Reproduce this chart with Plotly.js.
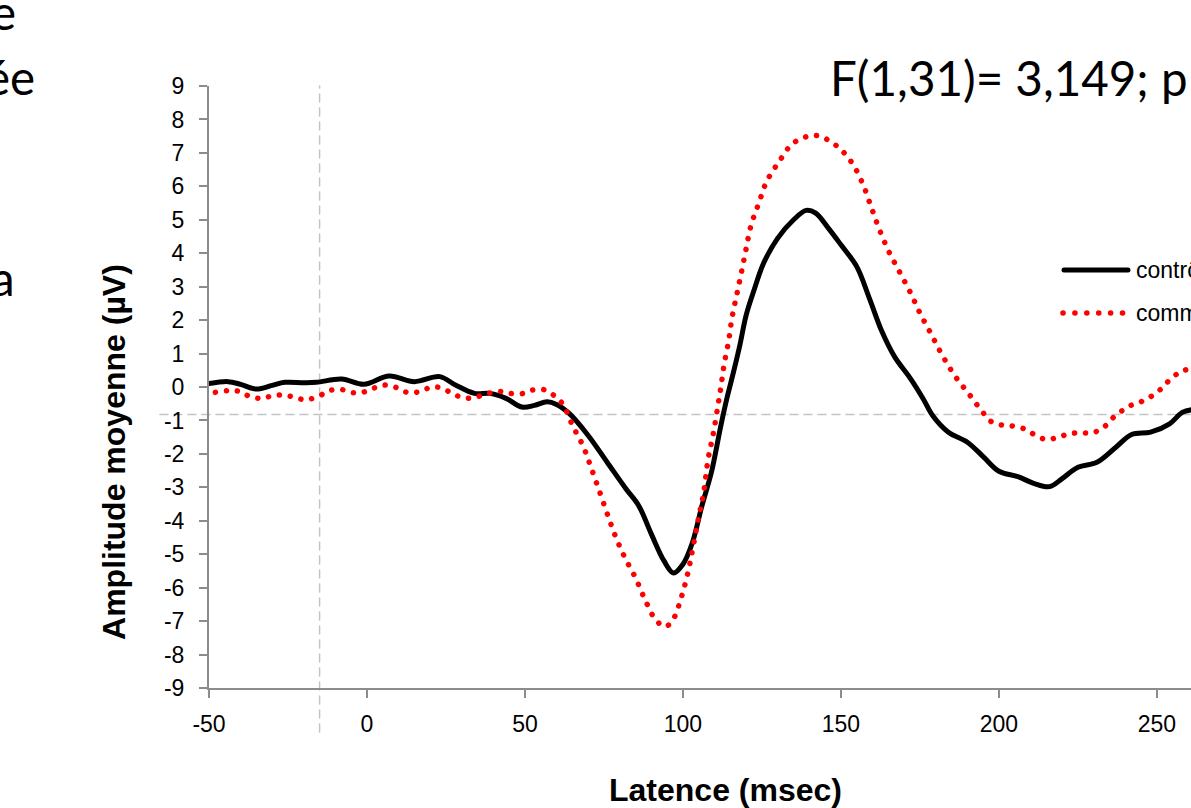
<!DOCTYPE html>
<html><head><meta charset="utf-8">
<script src="https://cdn.plot.ly/plotly-3.0.1.min.js"></script>
<style>
html,body{margin:0;padding:0;overflow:hidden;background:#fff;}
#chart{width:1300px;height:808px;}
.scatterlayer path.js-line{stroke-linecap:round !important;stroke-linejoin:round !important;}
.shapelayer path{stroke-linecap:round !important;}
</style></head><body><div id="chart"></div>
<script>
// ---- data ----
const seriesNames = ['contrôles', 'commotionnés'];

const latenceControle = [-50,-44,-40,-35,-30,-26,-20,-16,-8,-1,7,15,23,28,34,39,44,49,53,57,60,64,70,76,82,86,90,94,97,100,103,106,109,112,114,116,118,120,122.5,125.5,130,135,139,142,146,150,155,159,163,167,172,176,179,184,190,195,200,206,211,216,220,225,231,237,242,248,254,258,261];
const amplitudeControle = [0.10,0.16,0.08,-0.06,0.05,0.14,0.13,0.14,0.24,0.08,0.33,0.16,0.31,0.06,-0.19,-0.19,-0.34,-0.60,-0.55,-0.44,-0.52,-0.79,-1.45,-2.25,-3.05,-3.55,-4.40,-5.20,-5.56,-5.30,-4.65,-3.55,-2.55,-1.15,-0.30,0.45,1.25,2.15,2.90,3.70,4.45,5.00,5.28,5.20,4.75,4.25,3.60,2.65,1.65,0.90,0.25,-0.35,-0.85,-1.35,-1.65,-2.08,-2.52,-2.68,-2.88,-2.98,-2.74,-2.40,-2.25,-1.80,-1.42,-1.35,-1.10,-0.76,-0.68];

const latenceCommotion = [-48,-44,-40,-37,-33,-30,-26,-22,-19,-15,-12,-8,-4.5,-1,2.5,6,10,13,17,20.5,24,27,31,34,38,42,45,49,52,56,59,62,65,68.5,71,73.5,76,78.5,81.5,85,88,91.5,94.5,97,99.5,101.5,103,105,106.5,108,109.5,111,112,113,114.5,115.5,117,118.5,120,121.5,124,126.5,130.5,135,142,148.5,153.5,157,159.5,162,165,168.5,172,175,178.5,182,186,190.5,195,197.5,201,204.5,208.5,211.5,215,218.5,222.5,226,229.5,233,235.5,238.5,241.5,245,248.5,251.5,254,257,260];
const amplitudeCommotion = [-0.16,-0.11,-0.14,-0.29,-0.34,-0.26,-0.24,-0.34,-0.38,-0.26,-0.11,-0.08,-0.17,-0.15,-0.02,0.06,-0.04,-0.17,-0.13,0.00,-0.04,-0.20,-0.33,-0.31,-0.20,-0.13,-0.19,-0.20,-0.10,-0.08,-0.24,-0.52,-1.14,-1.79,-2.43,-3.10,-3.78,-4.43,-5.08,-5.71,-6.36,-6.98,-7.16,-6.93,-6.28,-5.58,-4.88,-3.88,-3.18,-2.13,-1.44,-0.60,0.00,0.66,1.41,2.06,2.75,3.43,4.14,4.82,5.50,6.15,6.75,7.30,7.52,7.22,6.70,6.05,5.40,4.75,4.08,3.45,2.82,2.21,1.59,0.96,0.34,-0.21,-0.77,-1.03,-1.14,-1.17,-1.27,-1.44,-1.57,-1.51,-1.39,-1.37,-1.37,-1.22,-0.97,-0.74,-0.56,-0.44,-0.26,-0.04,0.21,0.43,0.54];

const xTickValues = [-50, 0, 50, 100, 150, 200, 250];
const yTickValues = [9,8,7,6,5,4,3,2,1,0,-1,-2,-3,-4,-5,-6,-7,-8,-9];
const xRange = [-50, 276.6];
const yRange = [-9, 9];
const stimulusLatence = -15;      // vertical dashed reference
const baselineAmplitude = -0.82;  // horizontal dashed reference

const xTitle = 'Latence (msec)';
const yTitle = 'Amplitude moyenne (µV)';
const statText = 'F(1,31)= 3,149; p';
const slideFragments = ['e', 'ée', 'a'];

// ---- chart ----
const axisFont = {family: 'Liberation Sans, Arial, sans-serif', size: 23, color: '#000'};
const titleFont = {family: 'Liberation Sans, Arial, sans-serif', size: 32, color: '#000', weight: 'bold'};
const slideFont = {family: 'Lato, Carlito, sans-serif', size: 47.5, color: '#000'};

const traces = [
  {x: latenceControle, y: amplitudeControle, name: seriesNames[0], type: 'scatter', mode: 'lines',
   line: {color: '#000000', width: 5, shape: 'spline', smoothing: 1}, showlegend: false, hoverinfo: 'skip'},
  {x: latenceCommotion, y: amplitudeCommotion, name: seriesNames[1], type: 'scatter', mode: 'lines',
   line: {color: '#ff0000', width: 5.5, dash: '0.1px,10.9px', shape: 'spline', smoothing: 1}, showlegend: false, hoverinfo: 'skip'}
];

const gray = '#8c8c8c';
const layout = {
  width: 1300, height: 808,
  margin: {l: 209, r: 59, t: 86, b: 120},
  paper_bgcolor: '#fff', plot_bgcolor: '#fff',
  showlegend: false,
  xaxis: {range: xRange, tickvals: xTickValues, ticktext: xTickValues.map(String),
    showgrid: false, zeroline: false, showline: true, linecolor: gray, linewidth: 2,
    ticks: 'outside', ticklen: 8, tickcolor: gray, tickwidth: 1.5, tickfont: axisFont,
    ticklabelstandoff: 6},
  yaxis: {range: yRange, tickvals: yTickValues, ticktext: yTickValues.map(String),
    showgrid: false, zeroline: false, showline: true, linecolor: gray, linewidth: 2,
    ticks: 'outside', ticklen: 8, tickcolor: gray, tickwidth: 1.5, tickfont: axisFont,
    ticklabelstandoff: 10},
  shapes: [
    {type: 'line', xref: 'paper', yref: 'y', x0: -0.0475, x1: 1, y0: baselineAmplitude, y1: baselineAmplitude,
     line: {color: '#c4c4c4', width: 1.5, dash: '8px,6px'}, layer: 'below'},
    {type: 'line', xref: 'x', yref: 'paper', x0: stimulusLatence, x1: stimulusLatence, y0: -0.073, y1: 1,
     line: {color: '#c4c4c4', width: 1.5, dash: '8px,6px'}, layer: 'below'},
    // legend samples
    {type: 'line', xref: 'paper', yref: 'paper', x0: 0.8285, x1: 0.8905, y0: 0.6944, y1: 0.6944,
     line: {color: '#000', width: 5}},
    {type: 'line', xref: 'paper', yref: 'paper', x0: 0.8275, x1: 0.8875, y0: 0.6229, y1: 0.6229,
     line: {color: '#ff0000', width: 5.5, dash: '0.1px,11.8px'}}
  ],
  annotations: [
    {text: yTitle, xref: 'paper', yref: 'paper', x: -0.0921, y: 0.392, textangle: -90,
     showarrow: false, font: titleFont, xanchor: 'center', yanchor: 'middle'},
    {text: xTitle, xref: 'paper', yref: 'paper', x: 0.5, y: -0.1694,
     showarrow: false, font: titleFont, xanchor: 'center', yanchor: 'middle'},
    {text: seriesNames[0], xref: 'paper', yref: 'paper', x: 0.8965, y: 0.6944,
     showarrow: false, font: axisFont, xanchor: 'left', yanchor: 'middle'},
    {text: seriesNames[1], xref: 'paper', yref: 'paper', x: 0.8965, y: 0.6229,
     showarrow: false, font: axisFont, xanchor: 'left', yanchor: 'middle'},
    {text: statText, xref: 'paper', yref: 'paper', x: 0.5997, y: 1.0133,
     showarrow: false, font: slideFont, xanchor: 'left', yanchor: 'middle'},
    {text: slideFragments[0], xref: 'paper', yref: 'paper', x: -0.1851, y: 1.123,
     showarrow: false, font: slideFont, xanchor: 'right', yanchor: 'middle'},
    {text: slideFragments[1], xref: 'paper', yref: 'paper', x: -0.1667, y: 1.0166,
     showarrow: false, font: slideFont, xanchor: 'right', yanchor: 'middle'},
    {text: slideFragments[2], xref: 'paper', yref: 'paper', x: -0.1861, y: 0.6823,
     showarrow: false, font: slideFont, xanchor: 'right', yanchor: 'middle'}
  ]
};

Plotly.newPlot('chart', traces, layout, {displayModeBar: false, responsive: false});
</script></body></html>
